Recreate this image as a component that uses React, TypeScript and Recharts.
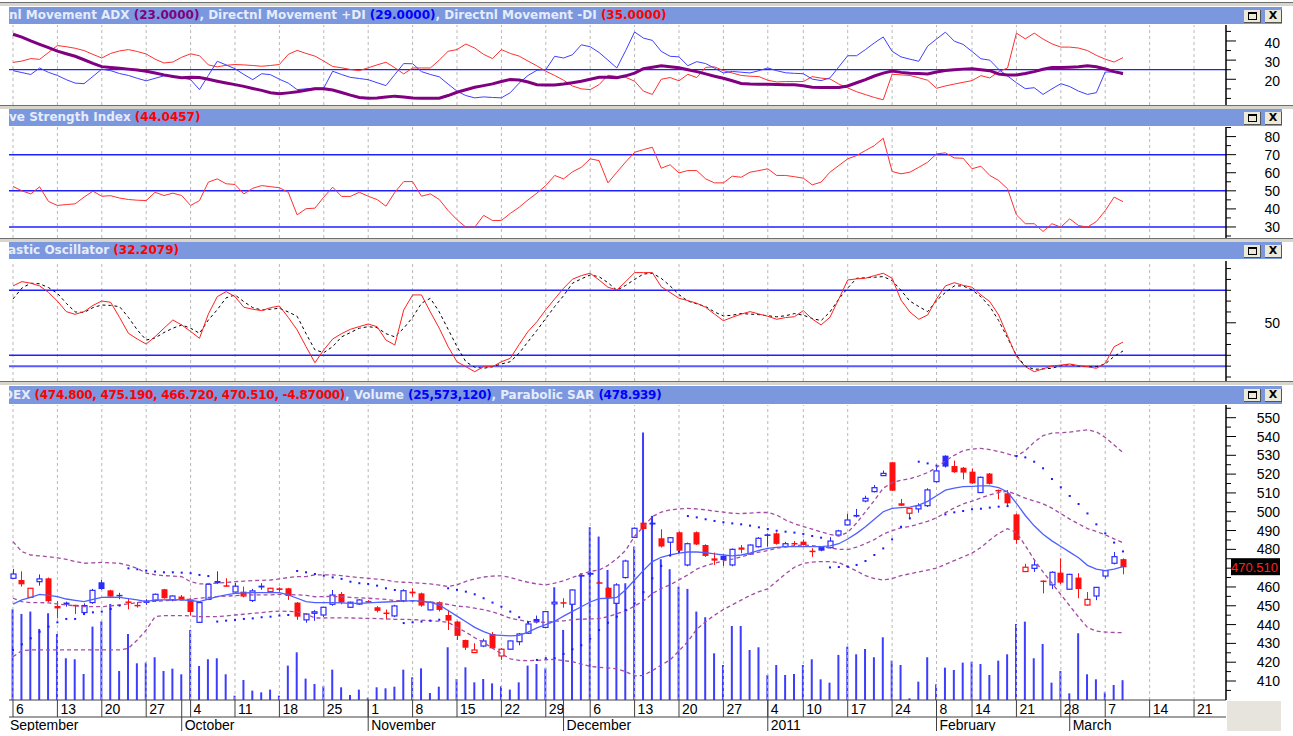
import React from "react";
import { Bar, ComposedChart, Line, ReferenceLine, Scatter, XAxis, YAxis } from "recharts";

// trading day index: 0 = 6 Sep 2010 ... 125 = 9 Mar 2011
const OPEN = [
  464.6, 463.7, 454.5, 462.8, 464.6, 449.9, 451.7, 450.5, 446.4, 451.7, 462.5, 458.2, 455.8, 452.3, 450.5, 452.8, 452.8, 458.8, 453.1, 454.9,
  453.4, 441.2, 453.4, 463.2, 460.9, 457.3, 457.5, 452.8, 460.7, 457.5, 459.3, 459.3, 451.7, 442.5, 446.0, 445.1, 450.8, 456.3, 449.2, 450.9,
  452.5, 449.2, 446.4, 444.6, 452.7, 457.5, 456.6, 447.8, 451.9, 445.1, 441.6, 431.8, 425.1, 428.6, 435.0, 423.3, 426.9, 430.9, 435.4, 443.0,
  438.5, 451.0, 451.9, 450.8, 466.4, 467.5, 462.5, 459.6, 451.3, 465.0, 486.4, 494.2, 494.2, 485.9, 483.8, 489.1, 471.7, 489.1, 482.3, 475.2,
  476.5, 471.7, 481.0, 477.5, 481.4, 488.0, 488.5, 481.5, 483.4, 484.1, 479.3, 481.4, 480.9, 487.6, 493.0, 498.3, 505.7, 510.7, 519.2, 526.3,
  504.5, 499.2, 501.5, 503.2, 516.0, 529.8, 524.3, 523.4, 521.3, 510.2, 520.3, 511.6, 509.8, 498.6, 468.2, 469.9, 463.4, 461.1, 467.6, 458.8,
  465.0, 450.4, 455.2, 465.8, 472.6, 474.8,
];
const HIGH = [
  469.6, 468.3, 459.5, 466.7, 465.0, 452.5, 452.2, 450.5, 451.3, 459.0, 463.7, 458.5, 456.9, 454.0, 452.0, 453.5, 456.5, 459.0, 455.5, 455.7,
  454.0, 452.0, 462.0, 468.3, 464.6, 462.2, 460.2, 459.0, 462.0, 459.5, 459.8, 459.5, 452.0, 446.0, 447.7, 449.5, 458.4, 457.3, 452.2, 453.5,
  453.0, 449.8, 448.0, 450.5, 458.8, 459.3, 457.0, 452.3, 452.3, 447.8, 442.0, 432.0, 430.1, 432.5, 436.0, 427.5, 431.5, 435.5, 441.3, 444.8,
  447.3, 452.5, 454.0, 458.6, 466.6, 468.0, 463.0, 460.0, 462.0, 474.5, 491.7, 494.5, 497.7, 490.7, 486.5, 489.5, 483.6, 489.5, 482.7, 478.3,
  477.5, 480.5, 482.3, 482.6, 486.5, 488.5, 489.0, 484.0, 484.4, 485.3, 480.6, 481.6, 486.5, 490.4, 498.9, 501.5, 508.5, 514.2, 521.9, 526.5,
  506.8, 502.0, 504.5, 512.5, 523.6, 530.0, 527.2, 523.8, 523.0, 518.7, 520.6, 511.8, 511.6, 499.0, 472.3, 474.6, 463.4, 468.3, 475.2, 467.0,
  467.3, 457.3, 460.0, 469.0, 478.6, 475.19,
];
const LOW = [
  464.4, 460.2, 454.3, 460.7, 452.0, 443.3, 449.5, 445.6, 445.1, 451.0, 458.5, 454.5, 453.5, 448.1, 449.0, 450.5, 452.0, 453.8, 452.4, 452.8,
  444.8, 441.0, 453.0, 461.6, 460.2, 457.0, 454.5, 452.0, 458.5, 457.3, 457.5, 453.1, 442.5, 441.0, 442.0, 444.0, 450.0, 450.8, 448.8, 450.5,
  451.5, 446.5, 442.7, 444.0, 451.9, 454.9, 449.5, 447.5, 447.0, 437.1, 431.8, 426.5, 424.9, 428.0, 427.0, 421.2, 426.5, 429.0, 435.0, 440.6,
  438.0, 449.2, 449.0, 450.5, 465.0, 465.9, 462.0, 453.8, 450.8, 464.5, 486.0, 490.0, 492.0, 481.0, 477.0, 479.0, 471.0, 482.3, 476.0, 471.7,
  471.2, 471.0, 477.9, 477.0, 481.0, 481.4, 482.5, 481.0, 481.4, 482.0, 476.0, 479.0, 480.5, 487.0, 492.7, 497.0, 505.0, 510.3, 519.0, 511.0,
  503.0, 496.0, 499.5, 502.5, 515.5, 523.5, 520.7, 517.2, 514.8, 510.0, 514.5, 506.6, 503.2, 483.0, 468.0, 468.0, 456.6, 458.9, 461.5, 458.5,
  454.0, 450.0, 453.0, 464.5, 472.0, 466.72,
];
const CLOSE = [
  466.9, 461.4, 459.3, 464.3, 452.4, 448.6, 450.6, 450.0, 450.1, 458.2, 458.9, 454.9, 455.2, 451.8, 449.8, 451.5, 456.1, 454.0, 455.2, 453.1,
  446.7, 451.7, 461.4, 462.0, 460.2, 460.4, 454.9, 457.9, 459.7, 459.3, 458.4, 455.2, 444.2, 445.6, 446.8, 449.2, 455.7, 451.7, 451.9, 453.1,
  451.9, 447.3, 445.6, 449.9, 458.0, 456.6, 450.1, 451.9, 447.8, 442.1, 434.0, 427.7, 426.5, 431.3, 427.4, 426.9, 431.3, 435.0, 440.3, 441.2,
  446.9, 451.9, 451.4, 458.4, 465.5, 466.5, 462.3, 454.0, 461.1, 473.8, 491.2, 490.8, 493.2, 481.5, 486.2, 479.3, 483.0, 482.6, 476.5, 474.0,
  474.3, 480.0, 479.8, 482.3, 485.9, 487.1, 482.9, 483.0, 482.7, 482.3, 478.6, 479.3, 484.4, 489.8, 495.6, 497.4, 507.1, 512.8, 520.4, 511.2,
  503.2, 501.8, 503.2, 511.6, 521.7, 524.0, 521.0, 520.8, 515.1, 518.3, 514.8, 511.0, 504.5, 485.0, 470.5, 471.7, 462.9, 467.8, 462.3, 466.7,
  458.9, 453.4, 459.8, 468.7, 476.1, 470.51,
];
// millions of shares
const VOLUME = [
  117.2, 111.2, 114.2, 91.8, 112.0, 85.3, 53.9, 52.6, 33.6, 94.8, 101.6, 124.1, 37.5, 85.3, 47.4, 48.3, 55.2, 37.5, 40.5, 33.2,
  90.5, 43.9, 52.6, 53.9, 33.2, 5.6, 25.8, 12.1, 9.9, 13.4, 5.6, 44.4, 61.6, 27.6, 20.7, 17.7, 39.2, 16.4, 6.5, 13.4,
  3.0, 16.4, 15.1, 17.2, 39.2, 29.3, 40.9, 9.0, 17.2, 68.1, 27.1, 42.2, 22.8, 27.1, 21.5, 17.7, 13.4, 22.8, 44.4, 46.5,
  40.9, 145.6, 90.5, 142.2, 163.7, 223.2, 211.1, 168.0, 146.5, 150.8, 198.2, 345.5, 237.8, 181.8, 168.9, 146.5, 143.5, 114.2, 106.9, 60.3,
  45.2, 95.6, 95.6, 64.6, 68.1, 32.3, 45.2, 32.3, 33.6, 45.2, 52.6, 26.7, 22.4, 58.2, 68.9, 59.0, 65.9, 55.2, 81.0, 50.8,
  45.2, 2.2, 23.7, 55.2, 20.2, 41.8, 38.8, 48.3, 49.5, 46.5, 32.3, 50.8, 59.0, 98.2, 101.2, 53.9, 72.4, 22.4, 37.5, 8.6,
  86.2, 33.2, 26.7, 9.9, 19.4, 25.6,
];
const SAR = [
  426.5, 429.5, 432.7, 436.2, 438.9, 441.2, 443.0, 443.0, 445.6, 446.5, 446.9, 448.3, 450.1, 469.9, 469.4, 468.7, 468.2, 467.8, 467.8, 467.6,
  467.3, 466.4, 465.8, 441.6, 442.1, 442.5, 443.0, 443.3, 443.9, 444.2, 444.8, 445.1, 468.5, 467.8, 466.9, 466.0, 465.1, 464.3, 462.8, 462.0,
  461.6, 460.7, 459.3, 458.4, 440.8, 441.2, 441.6, 442.1, 442.6, 459.3, 458.5, 457.5, 456.1, 454.0, 451.7, 449.5, 446.9, 443.9, 441.2, 421.2,
  422.1, 422.1, 424.4, 426.9, 429.0, 432.5, 437.1, 441.0, 444.2, 447.8, 451.3, 457.2, 464.6, 471.2, 476.7, 478.7, 497.7, 497.0, 496.0, 495.1,
  494.4, 493.8, 493.3, 492.6, 491.7, 490.8, 489.9, 489.4, 488.9, 488.2, 487.1, 486.2, 470.4, 470.6, 470.8, 471.7, 473.8, 477.0, 480.5, 485.3,
  492.0, 496.5, 526.6, 525.7, 524.5, 498.6, 499.7, 500.4, 501.3, 501.6, 502.2, 502.7, 503.0, 529.6, 528.9, 526.6, 523.1, 517.4, 513.0, 508.4,
  504.1, 499.1, 493.3, 488.5, 483.6, 478.9,
];
const BB_UPPER = [
  484.1, 478.8, 477.0, 476.5, 476.1, 475.5, 474.7, 473.5, 472.6, 472.8, 473.1, 472.8, 472.6, 471.5, 469.9, 467.3, 466.5, 466.0, 465.8, 465.5,
  462.8, 461.6, 461.8, 462.0, 462.4, 462.8, 463.1, 463.4, 463.5, 463.7, 464.3, 465.0, 465.5, 465.5, 466.4, 466.4, 466.4, 466.0, 465.5, 465.0,
  464.6, 464.2, 463.7, 462.8, 462.5, 462.3, 462.0, 461.6, 461.0, 460.2, 461.1, 463.0, 464.3, 465.3, 465.8, 465.9, 465.0, 463.7, 462.5, 461.6,
  461.1, 462.0, 463.3, 465.0, 466.8, 468.3, 469.0, 471.5, 475.0, 479.5, 487.0, 492.0, 497.4, 499.8, 501.0, 501.5, 501.8, 501.5, 501.0, 500.3,
  499.8, 499.2, 499.0, 499.3, 499.6, 499.6, 498.3, 495.6, 493.6, 492.1, 490.8, 489.3, 488.0, 487.0, 489.0, 494.0, 500.0, 506.0, 512.5, 515.5,
  516.8, 517.5, 519.0, 520.8, 523.5, 527.0, 530.0, 532.5, 533.3, 533.7, 533.0, 532.0, 530.8, 529.5, 532.5, 537.0, 540.5, 541.8, 542.0, 542.3,
  543.0, 543.5, 542.5, 539.5, 535.5, 531.4,
];
const BB_MIDDLE = [
  454.0, 452.2, 451.7, 451.7, 451.5, 451.0, 450.4, 450.0, 449.5, 449.5, 449.5, 450.0, 450.4, 451.0, 451.7, 452.2, 452.4, 452.7, 452.9, 453.1,
  453.5, 454.0, 454.5, 454.9, 455.1, 455.4, 455.6, 455.8, 455.8, 455.8, 456.1, 456.0, 455.8, 455.5, 454.8, 454.9, 455.0, 454.8, 454.5, 454.2,
  454.0, 453.7, 453.4, 452.8, 452.7, 452.5, 452.2, 451.8, 451.4, 450.7, 449.8, 449.5, 448.7, 447.9, 446.7, 445.2, 443.4, 442.4, 441.7, 441.3,
  441.2, 441.8, 442.0, 442.6, 442.9, 443.0, 443.2, 444.2, 445.8, 447.2, 449.9, 452.5, 456.5, 459.2, 461.1, 463.8, 466.4, 469.5, 471.3, 472.6,
  473.9, 474.8, 476.0, 477.4, 478.5, 479.3, 480.6, 481.3, 482.0, 482.3, 482.0, 481.4, 480.8, 480.0, 479.9, 481.2, 483.0, 485.2, 488.1, 490.0,
  491.4, 492.2, 493.5, 494.9, 496.8, 499.5, 502.0, 504.2, 505.6, 507.3, 509.0, 510.2, 510.9, 509.2, 507.2, 505.7, 504.2, 501.9, 499.0, 496.1,
  493.5, 491.0, 489.5, 487.7, 485.6, 483.5,
];
const BB_LOWER = [
  422.9, 426.2, 426.5, 426.5, 426.5, 426.5, 426.5, 426.5, 426.5, 426.5, 426.5, 426.5, 426.5, 427.4, 431.8, 437.1, 444.2, 444.8, 444.8, 444.8,
  444.6, 444.2, 444.2, 444.2, 444.6, 445.1, 445.5, 446.0, 446.4, 446.9, 447.2, 447.0, 446.9, 445.6, 443.5, 443.5, 443.6, 443.6, 443.5, 443.4,
  443.3, 443.2, 443.0, 442.8, 442.8, 442.6, 442.4, 442.0, 441.8, 441.2, 438.5, 436.0, 433.0, 430.5, 427.5, 424.5, 421.8, 421.0, 420.8, 421.0,
  421.3, 421.5, 420.8, 420.3, 419.0, 417.8, 417.3, 417.0, 416.5, 415.0, 412.7, 413.0, 415.5, 418.5, 421.2, 426.0, 431.0, 437.5, 441.5, 445.0,
  448.0, 450.5, 453.0, 455.5, 457.5, 459.0, 463.0, 467.0, 470.5, 472.5, 473.2, 473.5, 473.5, 473.0, 470.8, 468.5, 466.0, 464.5, 463.7, 464.5,
  466.0, 467.0, 468.0, 469.0, 470.0, 472.0, 474.0, 476.0, 478.0, 481.0, 485.0, 488.5, 491.0, 489.0, 482.0, 474.5, 468.0, 462.0, 456.0, 450.0,
  444.0, 438.5, 436.5, 436.0, 435.8, 435.7,
];
const MA = [
  450.9, 453.1, 454.5, 456.1, 455.5, 454.9, 453.6, 452.9, 452.2, 453.4, 454.5, 454.6, 454.5, 453.8, 453.1, 452.2, 453.1, 453.1, 453.2, 453.1,
  452.8, 452.2, 453.5, 454.9, 455.8, 456.6, 456.8, 457.0, 457.0, 457.0, 457.0, 455.8, 454.0, 452.2, 451.7, 451.7, 451.7, 451.5, 451.3, 451.3,
  451.5, 451.8, 452.0, 452.2, 452.5, 452.7, 452.5, 451.8, 450.5, 447.5, 444.5, 441.5, 438.5, 436.3, 434.5, 434.3, 434.0, 434.3, 436.0, 438.2,
  440.0, 441.8, 444.5, 447.0, 449.5, 452.0, 453.8, 454.0, 454.5, 458.5, 463.7, 468.8, 473.5, 475.8, 477.0, 478.0, 478.6, 478.6, 478.3, 477.6,
  477.0, 476.5, 477.0, 478.0, 479.5, 480.5, 481.0, 481.4, 481.4, 481.4, 481.4, 481.4, 481.8, 483.0, 485.5, 488.5, 492.0, 496.0, 500.0, 501.8,
  502.2, 502.5, 503.5, 505.5, 508.5, 511.5, 512.5, 513.3, 513.5, 513.7, 513.7, 512.8, 510.5, 504.5, 498.0, 492.5, 488.0, 484.5, 481.5, 478.5,
  475.5, 471.5, 469.5, 468.7, 469.5, 470.8,
];
const ADX = [
  43.5, 42.0, 40.0, 38.2, 36.5, 34.7, 33.3, 32.0, 30.2, 28.3, 26.6, 26.2, 25.8, 25.3, 24.8, 24.2, 23.3, 22.3, 21.5, 20.8,
  21.0, 20.9, 20.0, 19.0, 18.1, 17.2, 16.3, 15.2, 14.2, 13.0, 12.4, 12.9, 13.5, 14.3, 15.1, 15.0, 14.4, 13.1, 11.7, 10.5,
  10.1, 10.2, 10.7, 11.2, 10.8, 10.2, 10.1, 10.1, 10.1, 11.5, 13.2, 14.5, 15.8, 16.7, 17.6, 18.8, 19.9, 19.6, 18.6, 17.2,
  17.0, 17.0, 17.5, 18.2, 19.0, 20.0, 21.0, 21.0, 20.8, 21.8, 23.2, 25.5, 26.3, 27.0, 26.6, 26.0, 25.0, 24.0, 22.8, 21.6,
  20.5, 19.2, 17.8, 17.5, 17.4, 17.4, 17.3, 17.2, 17.1, 16.6, 15.8, 15.7, 15.7, 15.7, 16.5, 18.2, 19.8, 21.7, 23.2, 24.3,
  23.6, 23.1, 23.0, 22.8, 23.8, 24.6, 25.0, 25.3, 25.5, 25.0, 24.5, 22.8, 22.2, 22.2, 23.0, 24.0, 25.2, 26.1, 26.2, 26.3,
  26.5, 27.0, 26.5, 25.4, 24.0, 23.0,
];
const PLUS_DI = [
  24.5, 23.5, 22.5, 25.9, 23.6, 22.0, 19.8, 18.0, 17.7, 21.5, 25.3, 24.5, 23.0, 22.0, 20.5, 19.2, 20.5, 21.8, 21.5, 20.7,
  19.8, 14.6, 22.0, 29.4, 27.5, 25.5, 22.5, 19.8, 22.9, 22.4, 20.0, 18.0, 14.6, 15.0, 15.4, 15.4, 24.2, 22.5, 21.0, 20.4,
  19.8, 18.2, 16.7, 22.5, 28.2, 28.1, 24.0, 22.5, 21.3, 17.5, 13.8, 11.5, 10.3, 10.8, 10.5, 10.3, 13.0, 18.0, 22.0, 24.7,
  25.0, 32.0, 31.1, 32.8, 38.0, 37.0, 34.0, 30.0, 25.9, 35.0, 44.7, 41.5, 40.3, 34.6, 32.0, 31.7, 27.1, 29.2, 28.2, 25.8,
  23.3, 24.1, 23.7, 23.3, 24.5, 25.9, 24.5, 23.4, 23.1, 22.9, 20.1, 19.3, 20.7, 26.5, 32.3, 32.3, 35.5, 39.0, 42.1, 34.6,
  31.7, 30.5, 29.4, 37.3, 41.0, 44.6, 39.9, 38.2, 34.5, 30.7, 30.0, 25.2, 21.7, 18.2, 15.1, 15.6, 12.1, 15.0, 17.7, 16.2,
  13.8, 12.1, 13.0, 23.8, 23.8, 22.5,
];
const MINUS_DI = [
  28.8, 29.5, 30.8, 30.4, 34.0, 37.6, 37.0, 36.2, 35.0, 33.0, 31.1, 33.5, 34.8, 35.5, 34.5, 33.2, 30.5, 28.5, 29.0, 31.5,
  33.3, 32.3, 27.5, 26.5, 27.3, 27.7, 27.5, 27.2, 26.8, 27.2, 27.7, 33.0, 35.1, 33.5, 32.1, 29.5, 26.7, 26.0, 25.1, 24.5,
  26.0, 27.5, 28.9, 26.0, 22.8, 25.9, 25.9, 25.9, 30.0, 34.6, 35.5, 38.4, 36.3, 33.0, 30.8, 35.5, 33.5, 32.1, 29.5, 27.0,
  24.2, 22.0, 19.5, 16.5, 15.0, 14.6, 17.2, 22.1, 21.5, 21.0, 19.0, 13.8, 12.1, 20.0, 20.9, 19.2, 22.6, 20.9, 26.2, 26.5,
  24.5, 23.3, 22.0, 21.6, 21.4, 19.5, 18.6, 18.8, 18.8, 18.8, 21.4, 20.6, 20.2, 17.5, 15.5, 13.5, 12.0, 10.5, 9.3, 22.6,
  22.3, 22.0, 20.8, 19.5, 15.3, 16.5, 17.5, 18.4, 19.3, 21.9, 20.7, 24.0, 25.9, 44.1, 41.1, 44.1, 41.0, 38.5, 36.8, 36.8,
  36.3, 35.0, 32.5, 30.5, 29.0, 31.3,
];
const RSI = [
  52.4, 50.0, 48.3, 52.2, 44.1, 41.9, 42.4, 42.8, 46.5, 49.8, 47.0, 47.3, 46.0, 45.2, 44.8, 44.6, 49.2, 47.4, 48.7, 47.4,
  41.9, 44.6, 54.8, 56.6, 53.9, 53.5, 48.3, 51.4, 52.9, 52.3, 51.7, 49.2, 36.7, 40.1, 40.4, 46.5, 52.0, 46.9, 46.9, 49.2,
  47.0, 45.2, 41.5, 49.2, 55.1, 55.1, 47.0, 48.3, 45.2, 39.1, 34.0, 29.9, 29.9, 36.4, 33.6, 33.6, 37.5, 40.9, 45.0, 48.7,
  52.9, 58.5, 56.6, 60.5, 63.0, 67.7, 66.7, 54.4, 60.3, 66.0, 71.3, 72.8, 74.1, 62.5, 64.4, 59.9, 61.2, 61.2, 56.6, 54.4,
  54.4, 58.1, 57.5, 60.3, 61.2, 62.2, 58.5, 58.5, 57.8, 57.0, 53.3, 54.8, 60.3, 64.0, 67.7, 69.5, 72.3, 75.0, 79.1, 60.7,
  59.4, 60.3, 63.0, 65.8, 70.4, 71.0, 68.2, 68.0, 62.2, 63.6, 58.5, 55.7, 51.1, 36.7, 31.8, 31.8, 27.5, 31.8, 29.9, 34.5,
  30.8, 29.9, 33.0, 39.0, 46.5, 44.0,
];
const STOCH_K = [
  84.0, 88.0, 86.5, 84.0, 78.0, 70.0, 60.3, 57.8, 60.3, 66.0, 70.1, 68.9, 55.0, 40.3, 35.0, 30.4, 37.2, 45.0, 52.6, 48.0,
  42.0, 35.7, 58.0, 74.1, 78.8, 74.1, 64.3, 62.5, 61.2, 64.0, 65.5, 55.0, 43.4, 28.0, 13.2, 25.0, 35.0, 40.0, 44.0, 46.5,
  48.9, 46.4, 34.1, 29.5, 61.8, 75.7, 75.7, 60.0, 45.0, 28.0, 14.0, 9.5, 4.9, 9.5, 9.5, 14.1, 17.2, 30.0, 42.0, 51.0,
  62.0, 72.0, 81.8, 90.2, 93.5, 95.7, 89.5, 82.8, 80.3, 88.0, 96.3, 96.3, 96.3, 83.3, 78.0, 72.6, 70.5, 68.0, 64.3, 58.0,
  51.9, 55.1, 58.0, 60.3, 58.1, 56.0, 53.2, 54.8, 55.6, 61.2, 53.5, 48.0, 55.1, 72.0, 89.5, 90.5, 91.1, 93.5, 95.7, 91.1,
  71.0, 60.0, 53.2, 57.2, 72.0, 84.0, 87.0, 84.5, 82.8, 75.7, 69.5, 57.2, 38.0, 18.7, 9.5, 4.9, 7.5, 10.1, 11.0, 12.0,
  10.5, 9.5, 8.0, 12.6, 27.9, 32.2,
];
const STOCH_D = [
  72.0, 82.0, 86.5, 86.0, 82.5, 77.2, 68.0, 60.0, 59.5, 64.0, 66.4, 66.0, 64.9, 55.0, 43.4, 34.1, 36.0, 41.0, 45.0, 48.0,
  45.0, 40.3, 52.6, 62.0, 73.0, 75.7, 69.5, 64.0, 61.8, 62.5, 63.4, 60.0, 56.0, 40.0, 25.0, 22.5, 28.0, 37.0, 41.0, 45.0,
  46.4, 45.5, 40.0, 37.0, 45.0, 55.0, 68.0, 72.6, 60.0, 44.0, 28.0, 14.0, 9.0, 8.0, 9.5, 12.0, 14.1, 22.0, 32.6, 43.0,
  54.0, 65.0, 75.0, 86.5, 90.5, 94.1, 92.5, 87.0, 80.0, 84.5, 90.0, 95.0, 95.7, 91.0, 84.0, 76.0, 70.0, 67.5, 65.0, 60.0,
  56.3, 57.0, 58.5, 58.0, 57.5, 56.5, 55.5, 56.5, 58.5, 57.0, 54.0, 52.0, 60.0, 72.0, 82.0, 91.1, 91.5, 92.0, 92.6, 89.0,
  80.0, 70.0, 65.0, 60.3, 70.5, 78.0, 84.0, 84.0, 80.3, 74.0, 65.0, 52.0, 36.0, 20.0, 10.0, 7.1, 7.5, 8.0, 10.5, 11.7,
  10.0, 9.5, 9.5, 12.0, 19.0, 24.0,
];

const WEEK_TICKS = [0, 5, 10, 15, 20, 25, 30, 35, 40, 45, 50, 55, 60, 65, 70, 75, 80, 85, 89, 94, 99, 104, 108, 113, 118, 123, 128, 133];
const WEEK_LABELS = ["6", "13", "20", "27", "4", "11", "18", "25", "1", "8", "15", "22", "29", "6", "13", "20", "27", "4", "10", "17", "24", "8", "14", "21", "28", "7", "14", "21"];
const MONTH_TICKS = [-0.45, 19, 40, 62, 85, 104, 119];
const MONTH_LABELS = ["September", "October", "November", "December", "2011", "February", "March"];

const ADX_TICKS = [10, 15, 20, 25, 30, 35, 40, 45];
const ADX_LABELS = [20, 30, 40];
const RSI_TICKS = [25, 30, 35, 40, 45, 50, 55, 60, 65, 70, 75, 80, 85];
const RSI_LABELS = [30, 40, 50, 60, 70, 80];
const STOCH_TICKS = [0, 10, 20, 30, 40, 50, 60, 70, 80, 90, 100];
const STOCH_LABELS = [50];
const PRICE_TICKS = [405, 410, 415, 420, 425, 430, 435, 440, 445, 450, 455, 460, 465, 470, 475, 480, 485, 490, 495, 500, 505, 510, 515, 520, 525, 530, 535, 540, 545, 550, 555];
const PRICE_LABELS = [410, 420, 430, 440, 450, 460, 470, 480, 490, 500, 510, 520, 530, 540, 550];

const LAST_CLOSE = CLOSE[CLOSE.length - 1];

const rows = OPEN.map((open, i) => ({
  i,
  open,
  high: HIGH[i],
  low: LOW[i],
  close: CLOSE[i],
  range: [LOW[i], HIGH[i]],
  rising: i === 0 || CLOSE[i] >= CLOSE[i - 1],
  vol: VOLUME[i],
  sar: SAR[i],
  bbUp: BB_UPPER[i],
  bbMid: BB_MIDDLE[i],
  bbLow: BB_LOWER[i],
  ma: MA[i],
  adx: ADX[i],
  pdi: PLUS_DI[i],
  mdi: MINUS_DI[i],
  rsi: RSI[i],
  k: STOCH_K[i],
  d: STOCH_D[i],
}));

const W = 1293;
const PLOT_L = 9;
const PLOT_R = 1226;
const X_DOMAIN: [number, number] = [-0.45, 136.6];
const AXIS_FONT = "'Liberation Sans', Arial, sans-serif";
const HEAD_FONT = "'DejaVu Sans', Verdana, sans-serif";
const HEAD_BG = "#7b97de";
const HEAD_TXT = "#e6ecfa";
const BLUE = "#2b2bff";
const RED = "#ff1010";
const GRID = "#b8b8b8";
const LEVEL = "#2020ff";
const PURPLE = "#a24ca2";

function rightTick(labels: number[], dy: number, box?: number) {
  return (props: any) => {
    const { y, payload } = props;
    const v = payload.value;
    if (box !== undefined && v === box) {
      return (
        <g>
          <rect x={1231} y={y - 9} width={49} height={17} fill="#000" />
          <text x={1278} y={y + 4.5} textAnchor="end" fill="#ff2020" fontSize={13} fontFamily={AXIS_FONT}>
            {v.toFixed(3)}
          </text>
        </g>
      );
    }
    const major = labels.includes(v);
    // the label under the last-price box is hidden, as in the source
    const covered = box !== undefined && Math.abs(v - box) < 4;
    return (
      <g>
        <line x1={PLOT_R} x2={PLOT_R + (major ? 10 : 5)} y1={y} y2={y} stroke="#000" />
        {major && !covered && (
          <text x={1280} y={y + dy} textAnchor="end" fill="#000" fontSize={14} fontFamily={AXIS_FONT}>
            {v}
          </text>
        )}
      </g>
    );
  };
}

const WeekTick = (props: any) => {
  const { x, payload } = props;
  const k = WEEK_TICKS.indexOf(payload.value);
  return (
    <g>
      <line x1={x} x2={x} y1={295} y2={312} stroke="#404040" />
      <text x={x + 3} y={309} fontSize={14} fontFamily={AXIS_FONT} fill="#000">
        {WEEK_LABELS[k]}
      </text>
    </g>
  );
};

const MonthTick = (props: any) => {
  const { x, payload } = props;
  const k = MONTH_TICKS.indexOf(payload.value);
  return (
    <g>
      {k > 0 && <line x1={x} x2={x} y1={295} y2={326} stroke="#404040" />}
      <text x={x + (k > 0 ? 3 : 1)} y={324.5} fontSize={14} fontFamily={AXIS_FONT} fill="#000">
        {MONTH_LABELS[k]}
      </text>
    </g>
  );
};

const Candle = (props: any) => {
  const { x, y, width, height, payload } = props;
  const { open, close, high, low, rising } = payload;
  const k = height / Math.max(high - low, 0.01);
  const cx = Math.round(x + width / 2) + 0.5;
  const yo = y + (high - open) * k;
  const yc = y + (high - close) * k;
  const top = Math.min(yo, yc);
  const h = Math.max(Math.abs(yo - yc), 1.5);
  const color = rising ? BLUE : RED;
  const hollow = close > open;
  return (
    <g>
      <line x1={cx} x2={cx} y1={y} y2={y + height} stroke={color} strokeWidth={1} />
      {hollow ? (
        <rect x={cx - 2.5} y={top} width={5} height={h} fill="#fff" stroke={color} strokeWidth={1.2} />
      ) : (
        <rect x={cx - 3} y={top} width={6} height={h} fill={color} />
      )}
    </g>
  );
};

const SarDot = (props: any) => {
  const { cx, cy } = props;
  if (cx == null || cy == null) return null;
  return <rect x={cx - 1} y={cy - 1} width={2} height={2} fill="#1a1aff" />;
};

function gridLines() {
  return WEEK_TICKS.map((t) => (
    <ReferenceLine key={"g" + t} x={t} stroke={GRID} strokeDasharray="3 3" />
  ));
}

function Header(props: { top: number; height: number; textLeft: number; children: React.ReactNode }) {
  return (
    <div
      style={{
        position: "absolute",
        left: PLOT_L,
        top: props.top,
        width: 1273,
        height: props.height,
        background: HEAD_BG,
        overflow: "hidden",
      }}
    >
      <div
        style={{
          position: "absolute",
          left: props.textLeft,
          top: 0,
          lineHeight: props.height + "px",
          whiteSpace: "nowrap",
          fontFamily: HEAD_FONT,
          fontWeight: "bold",
          fontSize: 12,
          color: HEAD_TXT,
        }}
      >
        {props.children}
      </div>
      <div style={{ position: "absolute", left: 1235, top: 3, width: 16, height: 12, background: "#ece9d8", borderRight: "1px solid #555", borderBottom: "1px solid #555" }}>
        <div style={{ position: "absolute", left: 4, top: 2, width: 7, height: 5, border: "1px solid #000", borderTop: "2px solid #000" }} />
      </div>
      <div style={{ position: "absolute", left: 1256, top: 3, width: 16, height: 12, background: "#ece9d8", borderRight: "1px solid #555", borderBottom: "1px solid #555", fontFamily: HEAD_FONT, fontWeight: "bold", fontSize: 11, lineHeight: "12px", textAlign: "center", color: "#000" }}>
        X
      </div>
    </div>
  );
}

function Separator(props: { top: number }) {
  return (
    <div style={{ position: "absolute", left: 0, top: props.top, width: W, height: 4 }}>
      <div style={{ position: "absolute", left: 0, top: 0, width: W, height: 1, background: "#6f6f6f" }} />
      <div style={{ position: "absolute", left: 0, top: 1, width: W, height: 3, background: "#d8d5cc" }} />
    </div>
  );
}

const panelMargin = { top: 0, right: 0, bottom: 0, left: PLOT_L };
const tight = { letterSpacing: "-0.3px" };

export default function App() {
  return (
    <div style={{ position: "absolute", left: 0, top: 0, width: W, height: 736, background: "#fff", overflow: "hidden" }}>
      <Separator top={2} />
      <Header top={7} height={17} textLeft={0}>
        nl Movement ADX <span style={{ color: "#800080" }}>(23.0000)</span>, Directnl Movement +DI{" "}
        <span style={{ color: "#0000ff" }}>(29.0000)</span>, Directnl Movement -DI{" "}
        <span style={{ color: "#ff0000" }}>(35.0000)</span>
      </Header>
      <div style={{ position: "absolute", left: 0, top: 25, width: W, height: 80 }}>
        <ComposedChart width={W} height={80} data={rows} margin={panelMargin}>
          <XAxis type="number" dataKey="i" domain={X_DOMAIN} hide allowDataOverflow />
          <YAxis
            orientation="right"
            type="number"
            width={67}
            domain={[6.57, 48.34]}
            allowDataOverflow
            ticks={ADX_TICKS}
            interval={0}
            tickLine={false}
            axisLine={{ stroke: "#000", strokeWidth: 1.5 }}
            tick={rightTick(ADX_LABELS, 6.8)}
          />
          {gridLines()}
          <ReferenceLine y={25} stroke={LEVEL} strokeWidth={1.2} />
          <Line dataKey="mdi" stroke="#ff3030" strokeWidth={1} dot={false} activeDot={false} isAnimationActive={false} />
          <Line dataKey="pdi" stroke="#3f3fff" strokeWidth={1} dot={false} activeDot={false} isAnimationActive={false} />
          <Line dataKey="adx" stroke="#800080" strokeWidth={3} dot={false} activeDot={false} isAnimationActive={false} />
        </ComposedChart>
      </div>

      <Separator top={105} />
      <Header top={109} height={17} textLeft={0}>
        ve Strength Index <span style={{ color: "#ff0000" }}>(44.0457)</span>
      </Header>
      <div style={{ position: "absolute", left: 0, top: 127, width: W, height: 111 }}>
        <ComposedChart width={W} height={111} data={rows} margin={panelMargin}>
          <XAxis type="number" dataKey="i" domain={X_DOMAIN} hide allowDataOverflow />
          <YAxis
            orientation="right"
            type="number"
            width={67}
            domain={[23.9, 85.3]}
            allowDataOverflow
            ticks={RSI_TICKS}
            interval={0}
            tickLine={false}
            axisLine={{ stroke: "#000", strokeWidth: 1.5 }}
            tick={rightTick(RSI_LABELS, 5.3)}
          />
          {gridLines()}
          <ReferenceLine y={70} stroke={LEVEL} strokeWidth={1.5} />
          <ReferenceLine y={50} stroke={LEVEL} strokeWidth={1.5} />
          <ReferenceLine y={30} stroke={LEVEL} strokeWidth={1.5} />
          <Line dataKey="rsi" stroke="#ff3030" strokeWidth={1} dot={false} activeDot={false} isAnimationActive={false} />
        </ComposedChart>
      </div>

      <Separator top={238} />
      <Header top={242} height={17} textLeft={-1}>
        astic Oscillator <span style={{ color: "#ff0000" }}>(32.2079)</span>
      </Header>
      <div style={{ position: "absolute", left: 0, top: 261, width: W, height: 120 }}>
        <ComposedChart width={W} height={120} data={rows} margin={panelMargin}>
          <XAxis type="number" dataKey="i" domain={X_DOMAIN} hide allowDataOverflow />
          <YAxis
            orientation="right"
            type="number"
            width={67}
            domain={[-3.7, 107]}
            allowDataOverflow
            ticks={STOCH_TICKS}
            interval={0}
            tickLine={false}
            axisLine={{ stroke: "#000", strokeWidth: 1.5 }}
            tick={rightTick(STOCH_LABELS, 5)}
          />
          {gridLines()}
          <ReferenceLine y={80} stroke={LEVEL} strokeWidth={1.5} />
          <ReferenceLine y={20} stroke={LEVEL} strokeWidth={1.5} />
          <ReferenceLine y={10} stroke="#5a5aff" strokeWidth={2} />
          <Line dataKey="d" stroke="#000" strokeWidth={1} strokeDasharray="3 3" dot={false} activeDot={false} isAnimationActive={false} />
          <Line dataKey="k" stroke="#ff2020" strokeWidth={1} dot={false} activeDot={false} isAnimationActive={false} />
        </ComposedChart>
      </div>

      <Separator top={381} />
      <Header top={386} height={18} textLeft={-6}>
        DEX <span style={{ color: "#ff0000", ...tight }}>(474.800, 475.190, 466.720, 470.510, -4.87000)</span>, Volume{" "}
        <span style={{ color: "#0000ff", ...tight }}>(25,573,120)</span>, Parabolic SAR{" "}
        <span style={{ color: "#0000ff", ...tight }}>(478.939)</span>
      </Header>

      {/* volume layer */}
      <div style={{ position: "absolute", left: 0, top: 405, width: W, height: 295 }}>
        <ComposedChart width={W} height={295} data={rows} margin={{ top: 0, right: 67, bottom: 0, left: PLOT_L }}>
          <XAxis type="number" dataKey="i" domain={X_DOMAIN} hide allowDataOverflow />
          <YAxis type="number" domain={[0, 381]} hide allowDataOverflow />
          {gridLines()}
          <Bar dataKey="vol" fill="#3d3dff" barSize={2} isAnimationActive={false} />
        </ComposedChart>
      </div>

      {/* price layer */}
      <div style={{ position: "absolute", left: 0, top: 405, width: W, height: 326, overflow: "hidden" }}>
        <ComposedChart width={W} height={326} data={rows} margin={panelMargin}>
          <XAxis
            type="number"
            dataKey="i"
            domain={X_DOMAIN}
            allowDataOverflow
            ticks={WEEK_TICKS}
            interval={0}
            height={17}
            tickLine={false}
            axisLine={{ stroke: "#404040" }}
            tick={<WeekTick />}
          />
          <XAxis
            xAxisId="months"
            type="number"
            dataKey="i"
            domain={X_DOMAIN}
            allowDataOverflow
            ticks={MONTH_TICKS}
            interval={0}
            height={14}
            tickLine={false}
            axisLine={{ stroke: "#404040" }}
            tick={<MonthTick />}
          />
          <YAxis
            orientation="right"
            type="number"
            width={67}
            domain={[399.9, 556.75]}
            allowDataOverflow
            ticks={[...PRICE_TICKS, LAST_CLOSE]}
            interval={0}
            tickLine={false}
            axisLine={{ stroke: "#000", strokeWidth: 1.5 }}
            tick={rightTick(PRICE_LABELS, 5, LAST_CLOSE)}
          />
          <Line dataKey="bbUp" stroke={PURPLE} strokeWidth={1.3} strokeDasharray="4 3" dot={false} activeDot={false} isAnimationActive={false} />
          <Line dataKey="bbMid" stroke={PURPLE} strokeWidth={1.3} strokeDasharray="4 3" dot={false} activeDot={false} isAnimationActive={false} />
          <Line dataKey="bbLow" stroke={PURPLE} strokeWidth={1.3} strokeDasharray="4 3" dot={false} activeDot={false} isAnimationActive={false} />
          <Line dataKey="ma" stroke="#5060ff" strokeWidth={1.3} dot={false} activeDot={false} isAnimationActive={false} />
          <Bar dataKey="range" barSize={6} shape={<Candle />} isAnimationActive={false} />
          <Scatter dataKey="sar" shape={<SarDot />} isAnimationActive={false} />
        </ComposedChart>
      </div>
      <div style={{ position: "absolute", left: 1227, top: 701, width: 54, height: 30, background: "#e6e4dd" }} />
    </div>
  );
}
